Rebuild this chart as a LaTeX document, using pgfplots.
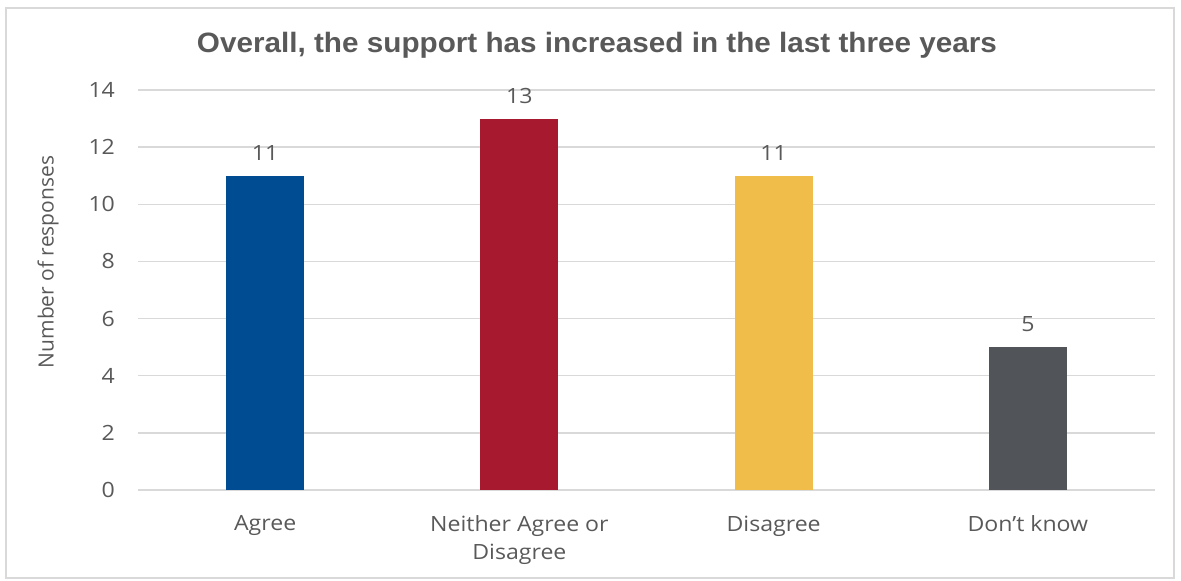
\documentclass[border=0pt]{standalone}
\usepackage{pgfplots}
\pgfplotsset{compat=1.18}
\usepackage{fontspec}
\setmainfont{Open Sans}[FakeStretch=1.1]
\newfontfamily\ylabfont{Open Sans}
\newfontfamily\titlefont{Liberation Sans}[FakeStretch=1.06]
\definecolor{cblue}{HTML}{004C93}
\definecolor{cred}{HTML}{A6192E}
\definecolor{cyellow}{HTML}{F0BD4A}
\definecolor{cgray}{HTML}{515459}
\definecolor{txt}{HTML}{595959}
\definecolor{gridc}{HTML}{D9D9D9}
\begin{document}
\begin{tikzpicture}[x=1pt,y=1pt]
\path[use as bounding box] (0,0) rectangle (590.5,290.5);
\draw[color=gridc, line width=0.7pt] (3,1.5) rectangle (587,286.5);
\node[font=\titlefont\bfseries\fontsize{14}{16}\selectfont, text=txt] at (298.5,268) {Overall, the support has increased in the last three years};
\node[font=\ylabfont\fontsize{10.5}{12}\selectfont, text=txt, rotate=90] at (24,159.5) {Number of responses};
\begin{axis}[
  at={(69pt,45.5pt)}, anchor=south west,
  scale only axis, width=508.5pt, height=200pt,
  xmin=-0.5, xmax=3.5, ymin=0, ymax=14,
  ytick={0,2,...,14},
  xtick={0,1,2,3},
  xticklabels={Agree,{Neither Agree or\\Disagree},Disagree,{Don’t know}},
  axis line style={draw=none},
  tick style={draw=none},
  ymajorgrids, grid style={color=gridc, line width=0.7pt},
  ybar, bar width=39pt, bar shift=0pt,
  clip=false,
  /pgf/number format/assume math mode=true,
  ticklabel style={font=\fontsize{10.5}{14}\selectfont, text=txt},
  yticklabel style={xshift=-8pt},
  xticklabel style={yshift=-5pt, align=center},
  nodes near coords,
  nodes near coords style={font=\fontsize{10.5}{12}\selectfont, text=txt, yshift=4pt},
]
\addplot[fill=cblue, draw=none] coordinates {(0,11)};
\addplot[fill=cred, draw=none] coordinates {(1,13)};
\addplot[fill=cyellow, draw=none] coordinates {(2,11)};
\addplot[fill=cgray, draw=none] coordinates {(3,5)};
\end{axis}
\end{tikzpicture}
\end{document}
